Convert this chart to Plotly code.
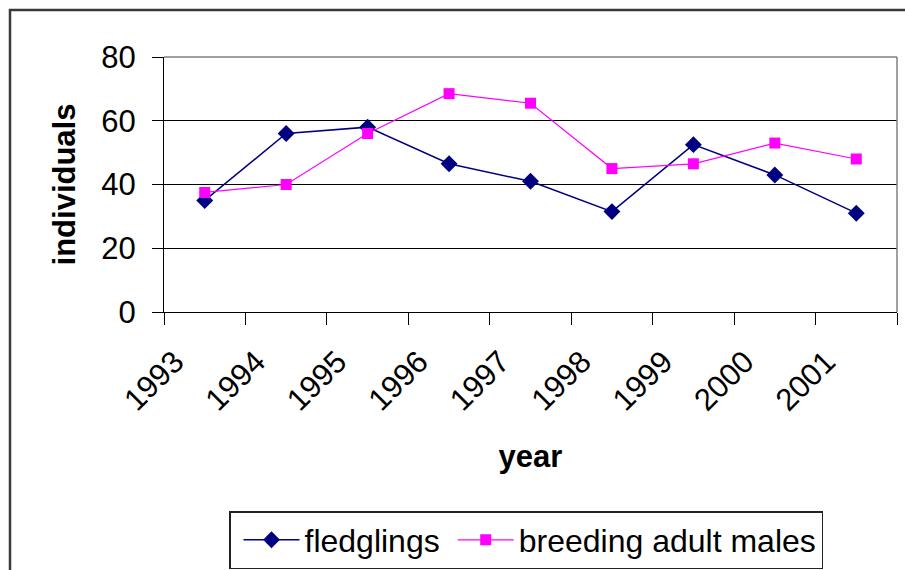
import plotly.graph_objects as go

years = ["1993", "1994", "1995", "1996", "1997", "1998", "1999", "2000", "2001"]
fledglings = [35, 56, 58, 46.5, 41, 31.5, 52.5, 43, 31]
breeding_males = [37.5, 40, 56, 68.5, 65.5, 45, 46.5, 53, 48]
y_ticks = [0, 20, 40, 60, 80]

FONT = "Liberation Sans, Arial, sans-serif"
FS = 31

fig = go.Figure()
fig.add_trace(go.Scatter(
    x=years, y=fledglings, name="fledglings", mode="lines+markers",
    line=dict(color="#000080", width=1.5),
    marker=dict(symbol="diamond", size=13, color="#000080"),
))
fig.add_trace(go.Scatter(
    x=years, y=breeding_males, name="breeding adult males", mode="lines+markers",
    line=dict(color="#FF00FF", width=1.2),
    marker=dict(symbol="square", size=11, color="#FF00FF"),
))

L, R, T, B = 164, 8, 57, 258
W, H = 905, 570
pw, ph = W - L - R, H - T - B

fig.update_layout(
    width=W, height=H, autosize=False,
    margin=dict(l=L, r=R, t=T, b=B, pad=0, autoexpand=False),
    paper_bgcolor="white", plot_bgcolor="white",
    font=dict(family=FONT, size=FS, color="black"),
    showlegend=True,
    legend=dict(
        orientation="h", x=(526 - L) / pw, xanchor="center",
        y=(H - B - 511) / ph, yanchor="top",
        bordercolor="#222222", borderwidth=1.5, bgcolor="white",
        font=dict(family=FONT, size=32), itemwidth=56, indentation=8,
    ),
    xaxis=dict(
        type="category", categoryorder="array", categoryarray=years,
        range=[-0.5, len(years) - 0.5],
        tickson="boundaries", ticks="outside", ticklen=12, tickwidth=1.2,
        tickcolor="black", showline=True, linecolor="black", linewidth=1.2,
        showgrid=False, tickangle=-45, tickfont=dict(family=FONT, size=FS),
        ticklabelstandoff=18, ticklabelshift=-30, automargin=False,
        title=dict(text="<b>year</b>", font=dict(family=FONT, size=FS), standoff=28),
        mirror=False, zeroline=False,
    ),
    yaxis=dict(
        range=[0, 80], tickvals=y_ticks, ticks="outside", ticklen=11, tickwidth=1.2,
        tickcolor="black", showline=True, linecolor="black", linewidth=1.2,
        showgrid=True, gridcolor="black", gridwidth=1.2, automargin=False,
        tickfont=dict(family=FONT, size=FS), ticklabelstandoff=10,
        title=dict(text="<b>individuals</b>", font=dict(family=FONT, size=FS), standoff=16),
        zeroline=False,
    ),
    shapes=[
        dict(type="line", xref="paper", yref="paper", x0=0, x1=1, y0=1, y1=1,
             line=dict(color="#808080", width=1.5)),
        dict(type="line", xref="paper", yref="paper", x0=1, x1=1, y0=0, y1=1,
             line=dict(color="#808080", width=1.5)),
        dict(type="rect", xref="paper", yref="paper",
             x0=(10 - L) / pw, x1=(W + 20 - L) / pw,
             y0=(H - B - H - 20) / ph, y1=(H - B - 10) / ph,
             line=dict(color="#3a3a3a", width=2.5), layer="below"),
    ],
)

fig.write_html(
    "out.html",
    config={"displayModeBar": False},
    post_script="document.body.style.margin='0';document.body.style.overflow='hidden';",
)
